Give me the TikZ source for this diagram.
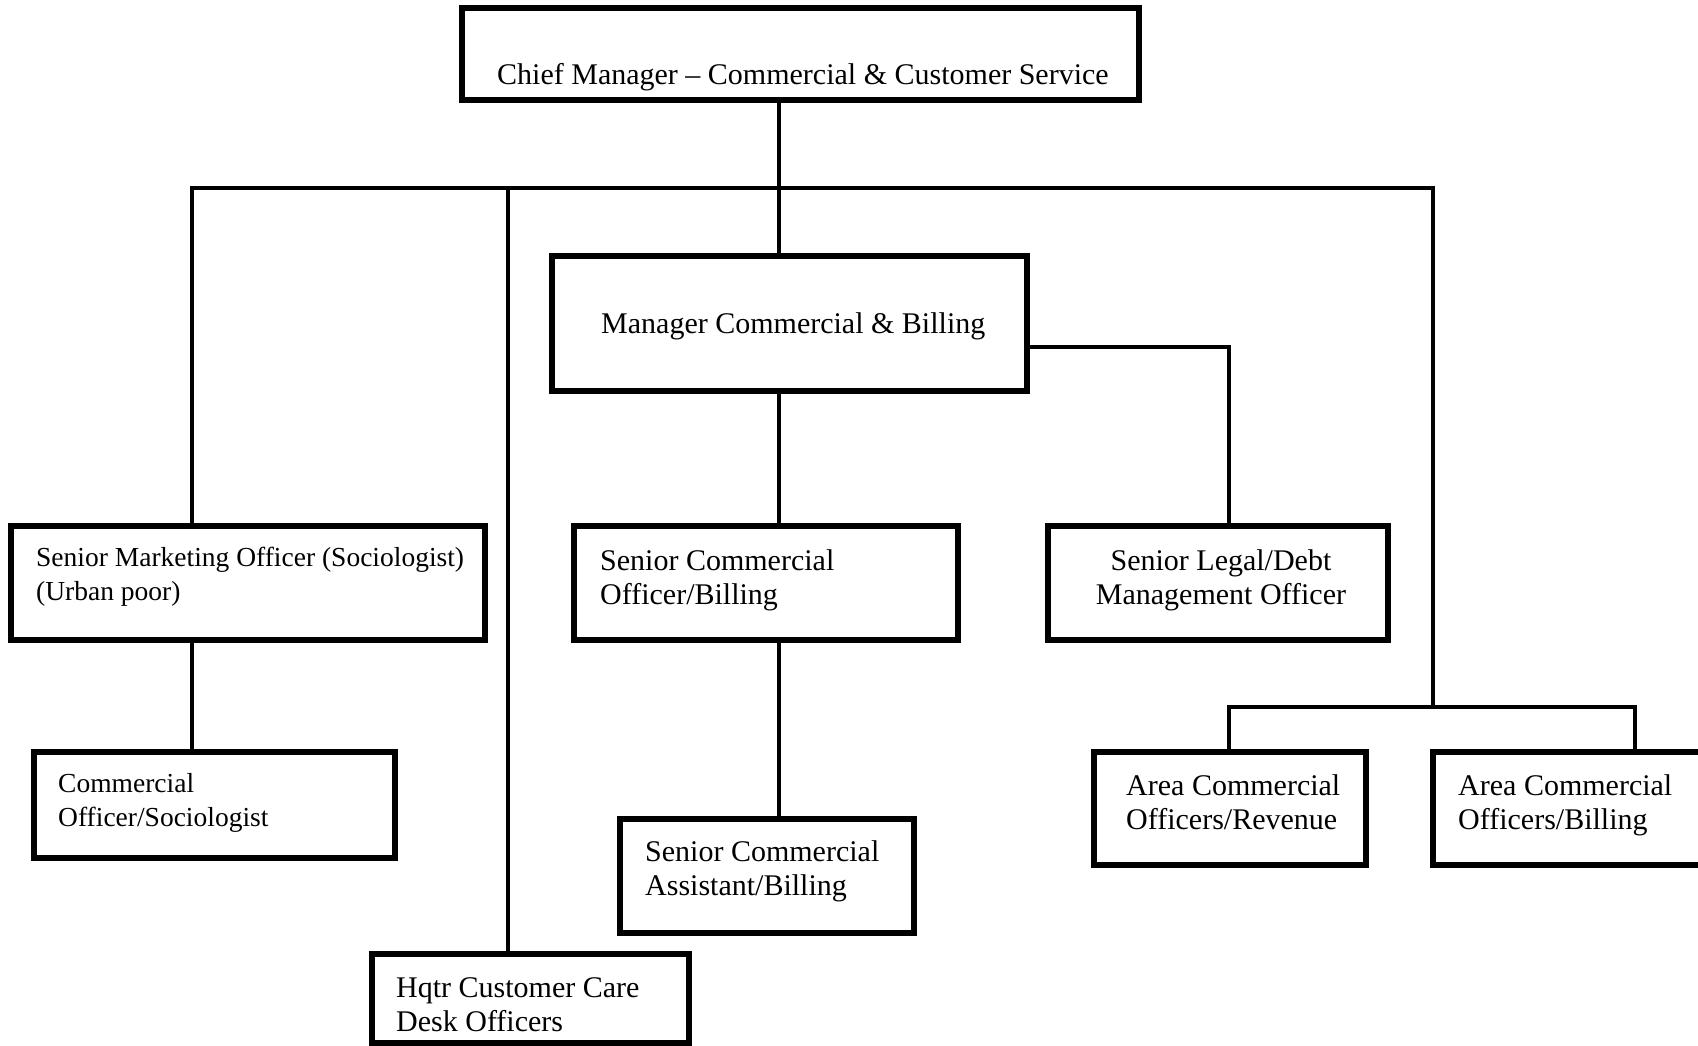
\documentclass[tikz,border=0pt]{standalone}
\usepackage{fontspec}
\setmainfont{Liberation Serif}
\tikzset{
  box/.style={draw, line width=5.5pt, inner sep=0pt},
  conn/.style={line width=3.4pt},
  lbl/.style={inner sep=0pt, anchor=base west, align=left, font=\fontsize{30}{33.6}\selectfont},
  lbls/.style={lbl, font=\fontsize{27.5}{33.6}\selectfont},
}
\begin{document}
\begin{tikzpicture}[x=1pt,y=-1pt]
\useasboundingbox (0,0) rectangle (1698,1046);
% boxes
\node[box, minimum width=677pt, minimum height=92pt] (top) at (800.5,54) {};
\node[box, minimum width=475pt, minimum height=135pt] (mgr) at (789.5,323.5) {};
\node[box, minimum width=474pt, minimum height=114pt] (smo) at (248,583) {};
\node[box, minimum width=384pt, minimum height=114pt] (sco) at (766,583) {};
\node[box, minimum width=340pt, minimum height=114pt] (legal) at (1218,583) {};
\node[box, minimum width=361pt, minimum height=106pt] (co) at (214.5,805) {};
\node[box, minimum width=294pt, minimum height=114pt] (sca) at (767,876) {};
\node[box, minimum width=317pt, minimum height=89pt] (hqtr) at (530.5,998.5) {};
\node[box, minimum width=272pt, minimum height=113pt] (acor) at (1230,808.5) {};
\node[box, minimum width=277pt, minimum height=113pt] (acob) at (1571.5,808.5) {};
% texts (multi-line nodes: base anchor = last line baseline)
\node[lbl] (t1) at (497,85) {Chief Manager -- Commercial \& Customer Service};
\node[lbl] (t2) at (601,333) {Manager Commercial \& Billing};
\node[lbls] (t3) at (36,600) {Senior Marketing Officer (Sociologist)\\(Urban poor)};
\node[lbls] (t4) at (58,826) {Commercial\\Officer/Sociologist};
\node[lbl] (t5) at (600,604) {Senior Commercial\\Officer/Billing};
\node[lbl, anchor=base, align=center] (t6) at (1221,604) {Senior Legal/Debt\\Management Officer};
\node[lbl] (t7) at (645,895) {Senior Commercial\\Assistant/Billing};
\node[lbl] (t8) at (396,1031) {Hqtr Customer Care\\Desk Officers};
\node[lbl] (t9) at (1126,829) {Area Commercial\\Officers/Revenue};
\node[lbl] (t10) at (1458,829) {Area Commercial\\Officers/Billing};
% connectors
\coordinate (bL) at (192,188);
\coordinate (bH) at (508,188);
\coordinate (bM) at (779,188);
\coordinate (bR) at (1433,188);
\coordinate (lg) at (1229,347);
\coordinate (rb) at (1433,707);
\coordinate (rl) at (1229,707);
\coordinate (rr) at (1635,707);
\draw[conn] (smo.north -| bL) -- (bL) -- (bR) -- (rb);
\draw[conn] (top.south -| bM) -- (mgr.north -| bM);
\draw[conn] (smo.south -| bL) -- (co.north -| bL);
\draw[conn] (bH) -- (hqtr.north -| bH);
\draw[conn] (mgr.south -| bM) -- (sco.north -| bM);
\draw[conn] (sco.south -| bM) -- (sca.north -| bM);
\draw[conn] (mgr.east |- lg) -- (lg) -- (legal.north -| lg);
\draw[conn] (acor.north -| rl) -- (rl) -- (rr) -- (acob.north -| rr);
\end{tikzpicture}
\end{document}
